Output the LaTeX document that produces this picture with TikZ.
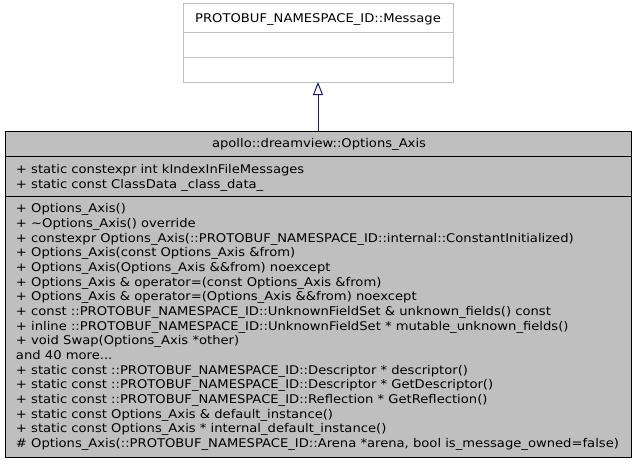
\documentclass[tikz,border=0pt]{standalone}
\usepackage{fontspec}
\setmainfont{DejaVu Sans}[FakeStretch=1.095]
\usetikzlibrary{arrows.meta}
\definecolor{grey75}{HTML}{BFBFBF}
\definecolor{midnight}{HTML}{191970}
\begin{document}
\begin{tikzpicture}[x=1pt,y=-1pt,
  every node/.style={inner sep=0pt,outer sep=0pt,font=\fontsize{12}{14}\selectfont},
  line/.style={anchor=base west},
  msgbox/.style={draw=grey75,fill=white,line width=1pt,minimum width=270pt,minimum height=79pt},
  clsbox/.style={draw=black,fill=grey75,line width=1pt,minimum width=626pt,minimum height=326pt},
  inherit/.style={draw=midnight,line width=1pt,-{Triangle[open,length=13pt,width=10pt]}}]
\useasboundingbox (0,0) rectangle (636,463);
% base class
\node[msgbox] (msg) at (318,42.5) {};
\draw[grey75,line width=1pt] (183,32) -- (453,32) (183,57) -- (453,57);
\node[anchor=base] (msgtitle) at (318,22) {PROTOBUF\_NAMESPACE\_ID::Message};
% derived class
\node[clsbox] (axis) at (318,294) {};
\draw[black,line width=1pt] (5,156) -- (631,156) (5,196) -- (631,196);
\node[anchor=base] (axistitle) at (319,147.5) {apollo::dreamview::Options\_Axis};
\node[line] (a1) at (16,173.4) {+ static constexpr int kIndexInFileMessages};
\node[line] (a2) at (16,188.0) {+ static const ClassData \_class\_data\_};
\node[line] (m1) at (16,212.7) {+ Options\_Axis()};
\node[line] (m2) at (16,227.4) {+ \textasciitilde Options\_Axis() override};
\node[line] (m3) at (16,242.0) {+ constexpr Options\_Axis(::PROTOBUF\_NAMESPACE\_ID::internal::ConstantInitialized)};
\node[line] (m4) at (16,256.7) {+ Options\_Axis(const Options\_Axis \&from)};
\node[line] (m5) at (16,271.4) {+ Options\_Axis(Options\_Axis \&\&from) noexcept};
\node[line] (m6) at (16,286.0) {+ Options\_Axis \& operator=(const Options\_Axis \&from)};
\node[line] (m7) at (16,300.7) {+ Options\_Axis \& operator=(Options\_Axis \&\&from) noexcept};
\node[line] (m8) at (16,315.4) {+ const ::PROTOBUF\_NAMESPACE\_ID::UnknownFieldSet \& unknown\_fields() const};
\node[line] (m9) at (16,330.0) {+ inline ::PROTOBUF\_NAMESPACE\_ID::UnknownFieldSet * mutable\_unknown\_fields()};
\node[line] (m10) at (16,344.7) {+ void Swap(Options\_Axis *other)};
\node[line] (m11) at (16,359.4) {and 40 more...};
\node[line] (m12) at (16,374.0) {+ static const ::PROTOBUF\_NAMESPACE\_ID::Descriptor * descriptor()};
\node[line] (m13) at (16,388.7) {+ static const ::PROTOBUF\_NAMESPACE\_ID::Descriptor * GetDescriptor()};
\node[line] (m14) at (16,403.4) {+ static const ::PROTOBUF\_NAMESPACE\_ID::Reflection * GetReflection()};
\node[line] (m15) at (16,418.0) {+ static const Options\_Axis \& default\_instance()};
\node[line] (m16) at (16,432.7) {+ static const Options\_Axis * internal\_default\_instance()};
\node[line] (m17) at (16,447.4) {\# Options\_Axis(::PROTOBUF\_NAMESPACE\_ID::Arena *arena, bool is\_message\_owned=false)};
% inheritance
\draw[inherit] (axis.north) -- (msg.south);
\end{tikzpicture}
\end{document}
